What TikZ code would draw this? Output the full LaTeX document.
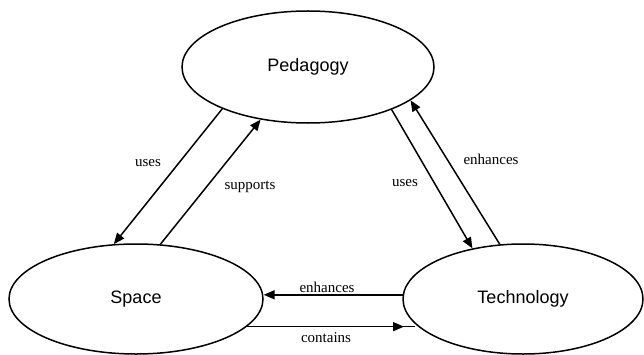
\documentclass[tikz,border=0pt]{standalone}
\usepackage{fontspec}
\setmainfont{Liberation Serif}
\setsansfont{Liberation Sans}
\usetikzlibrary{arrows.meta,shapes.geometric,decorations.markings}

\begin{document}
\begin{tikzpicture}[x=1pt,y=1pt,
    concept/.style={draw,ellipse,line width=1.5pt,inner sep=0pt,font=\sffamily\fontsize{18}{20}\selectfont},
    link/.style={line width=1.5pt,-{Triangle[length=11pt,width=9pt]}},
    midlink/.style={line width=1.5pt,postaction={decorate},decoration={markings,mark=at position -11pt with {\arrow{Triangle[length=11pt,width=9pt]}}}},
    tag/.style={font=\fontsize{15}{17}\selectfont}]
        \useasboundingbox (0,0) rectangle (644,354);
        \node[concept,minimum width=252pt,minimum height=112pt] (ped) at (308,287) {Pedagogy};
        \node[concept,minimum width=254pt,minimum height=110pt] (space) at (136,55) {Space};
        \node[concept,minimum width=240pt,minimum height=110pt] (tech) at (523,55) {Technology};
        \draw[link](ped.206.6)--(space.112);
        \draw[link](space.66.8)--(ped.228.3);
        \draw[link](ped.333.4)--(tech.135.5);
        \draw[link](tech.113.6)--(ped.342.6);
        \draw[link](tech.178.6)--(tech.178.6 -| space.1.4);
        \draw[midlink](space.346.6)--(space.346.6 -| tech.193.8);
        \node [tag] (usesL) at (148,191) {uses};
        \node [tag] (supports) at (250,167) {supports};
        \node [tag] (usesR) at (405,171) {uses};
        \node [tag] (enhR) at (491,195) {enhances};
        \node [tag] (enhB) at (327,67) {enhances};
        \node [tag] (contains) at (326,16) {contains};
      \end{tikzpicture}
\end{document}
